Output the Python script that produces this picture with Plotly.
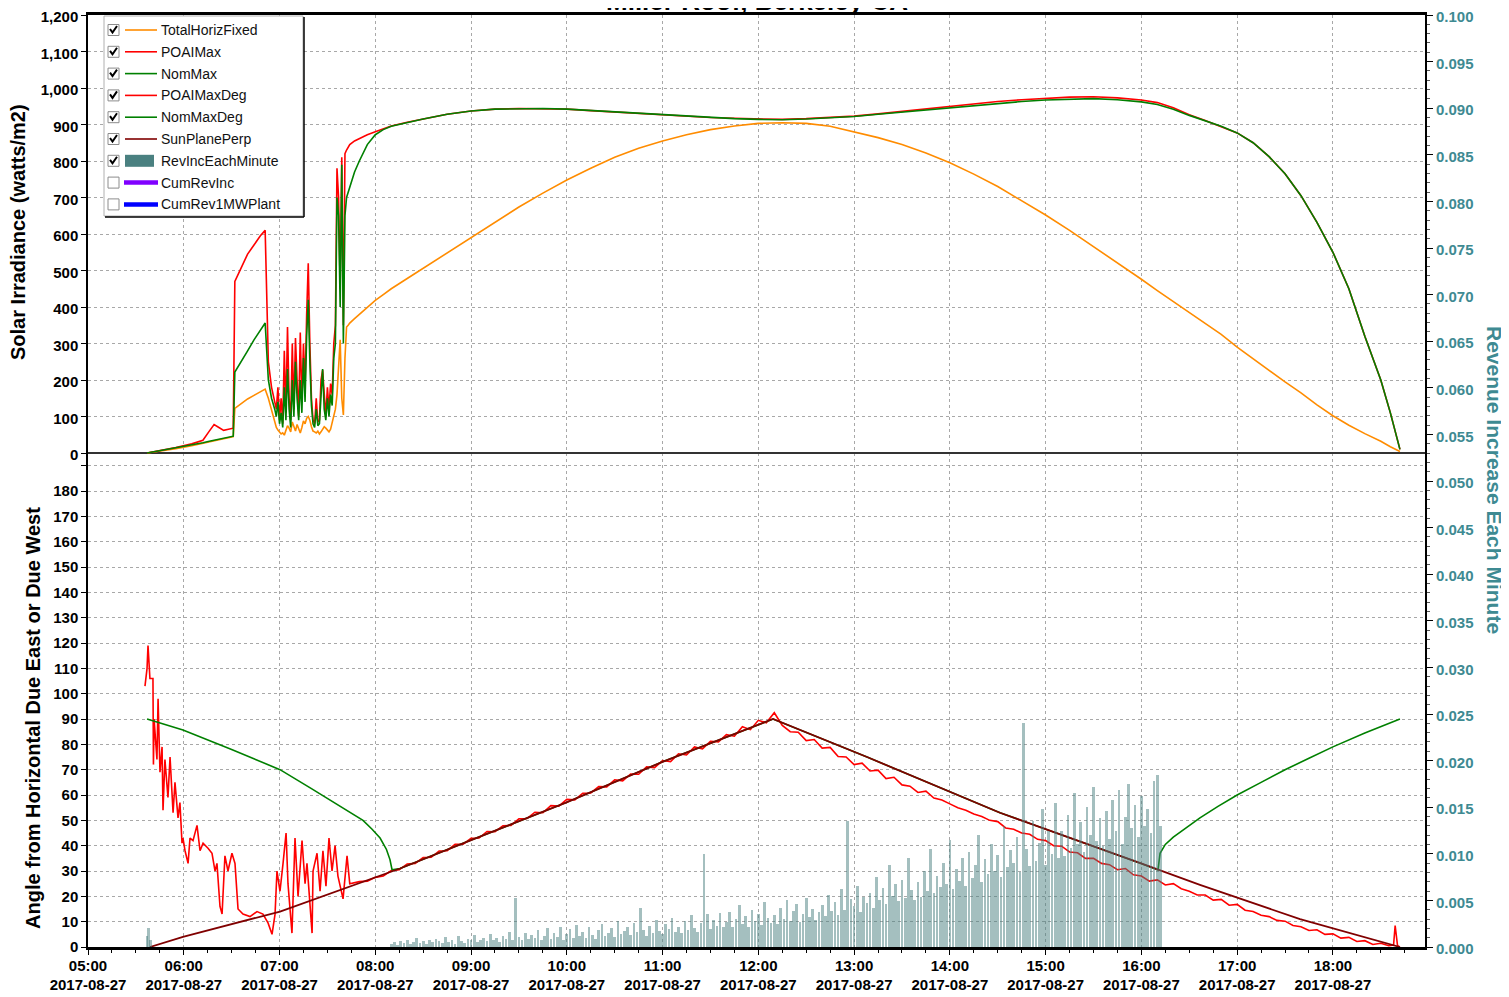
import pandas as pd
import plotly.graph_objects as go

FONT = "Arial, Liberation Sans, sans-serif"
T0 = pd.Timestamp("2017-08-27 05:00")

ORANGE = "#FF8C00"
RED = "#FF0000"
GREEN = "#008000"
DARKRED = "#800000"
TEAL = "#4A8080"
RIGHT_TXT = "#3E8A92"

# ---------------- top panel: solar irradiance (watts/m2) ----------------
top_times = [
    "05:37", "05:45", "05:55", "06:05", "06:12", "06:16", "06:19", "06:22", "06:25", "06:28",
    "06:31", "06:32", "06:36", "06:40", "06:44", "06:48", "06:51", "06:53", "06:55", "06:57",
    "06:58", "06:59", "07:00", "07:01", "07:02", "07:03", "07:04", "07:05", "07:06", "07:07",
    "07:08", "07:09", "07:10", "07:11", "07:12", "07:13", "07:14", "07:15", "07:16", "07:17",
    "07:18", "07:19", "07:20", "07:21", "07:22", "07:23", "07:24", "07:25", "07:26", "07:27",
    "07:28", "07:29", "07:30", "07:31", "07:32", "07:33", "07:34", "07:35", "07:36", "07:37",
    "07:38", "07:39", "07:40", "07:41", "07:42", "07:43", "07:44",
    "07:47", "07:50", "07:55", "08:00", "08:05", "08:10", "08:20", "08:30", "08:45",
    "09:00", "09:15", "09:30", "09:45", "10:00", "10:15", "10:30", "10:45", "11:00", "11:15",
    "11:30", "11:45", "12:00", "12:15", "12:30", "12:45", "13:00", "13:15", "13:30", "13:45",
    "14:00", "14:15", "14:30", "14:45", "15:00", "15:15", "15:30", "15:45", "16:00",
    "16:10", "16:20", "16:30", "16:40", "16:50", "17:00", "17:10", "17:20", "17:30", "17:40",
    "17:50", "18:00", "18:10", "18:20", "18:30", "18:36", "18:42",
]

total_horiz_fixed = [
    0, 5, 12, 20, 26, 30, 33, 36, 39, 42,
    45, 122, 135, 148, 158, 168, 175, 150, 118, 90,
    70, 63, 58, 52, 55, 49, 62, 75, 68, 58,
    85, 72, 60, 78, 65, 55, 70, 88, 80, 95,
    100, 90, 72, 60, 58, 55, 60, 52, 58, 65,
    72, 68, 62, 58, 65, 85, 100, 120, 160, 230,
    310, 150, 104, 260, 345, 350, 356,
    368, 380, 400, 418, 434, 450, 478, 506, 548,
    590, 633, 674, 712, 748, 780, 810, 835, 855, 872,
    886, 896, 903, 905, 903, 895, 880, 864, 845, 822,
    795, 764, 730, 692, 652, 610, 566, 521, 476,
    445, 415, 385, 355, 325, 290, 258, 226, 195, 165,
    132, 102, 76, 53, 32, 17, 4,
]

poai_max = [
    0, 6, 15, 25, 35, 60, 78, 70, 62, 65,
    68, 470, 510, 545, 570, 595, 610, 250, 180, 140,
    120, 180, 90, 150, 80, 280, 110, 345, 150, 90,
    300, 120, 315, 200, 100, 330, 140, 300, 180, 380,
    520, 300, 150, 90, 80, 150, 85, 90, 200, 227,
    150, 100, 180, 120, 190, 160, 300, 350, 780, 700,
    450, 810, 350, 820, 830, 838, 845,
    855, 862, 872, 880, 888, 896, 906, 915, 928,
    937, 942, 944, 944, 942, 938, 934, 930, 926, 922,
    919, 917, 915, 914, 916, 919, 923, 929, 936, 943,
    950, 957, 963, 968, 972, 975, 976, 973, 967,
    960, 946, 927, 911, 895, 877, 850, 812, 765, 705,
    632, 550, 450, 320, 200, 110, 10,
]

nom_max = [
    0, 6, 14, 22, 28, 32, 35, 38, 41, 44,
    46, 222, 250, 280, 310, 335, 356, 200, 150, 120,
    100, 140, 80, 110, 70, 180, 90, 230, 120, 70,
    200, 100, 250, 150, 90, 200, 110, 260, 140, 320,
    420, 250, 130, 80, 70, 120, 75, 80, 160, 230,
    120, 90, 150, 100, 160, 130, 260, 300, 700, 650,
    400, 790, 300, 650, 700, 715, 730,
    770, 800, 845, 872, 886, 895, 906, 915, 928,
    937, 942, 944, 944, 942, 938, 934, 930, 926, 922,
    918, 916, 914, 913, 915, 918, 922, 928, 934, 940,
    946, 952, 958, 963, 967, 970, 971, 968, 962,
    955, 942, 925, 910, 895, 877, 850, 812, 765, 705,
    632, 550, 450, 320, 200, 110, 10,
]

# ---------------- bottom panel: angle (degrees), minutes after 05:00 ----------------
sun_min = [38.8, 59.5, 120.3, 195.5, 239.3, 299.5, 359.6, 429.2, 488.1, 571.4, 659.8, 696.7, 759.4, 822]
sun_plane_perp = [0, 4, 14, 31, 42, 57, 73, 90, 75, 53, 33, 24.5, 11, 0]

nom_deg_min = [37, 59.5, 90, 120.3, 140, 151.6, 165, 172.3, 178, 183, 187, 189.2, 190.5, 195.5,
               239.3, 299.5, 359.6, 429.2, 488.1, 571.4, 659.8, 670.4, 671.7, 675, 680, 688.6,
               696.7, 708, 720, 735, 750, 765, 780, 800, 822]
nom_max_deg = [90, 85.7, 78, 70, 62.5, 58, 53, 50, 46.5, 43, 38.5, 34.5, 30.5, 31,
               42, 57, 73, 90, 75, 53, 33, 30.4, 37, 40.5, 43.4, 47.4,
               51, 55.5, 60, 65, 70, 74.5, 79, 84.5, 90]

poai_deg_early_min = [
    35.7, 37.0, 37.6, 38.8, 40.7, 41.0, 41.4, 43.2, 43.9, 45.1,
    46.4, 47.0, 48.2, 50.1, 51.4, 53.3, 54.5, 56.4, 57.6, 58.9,
    59.5, 60.8, 62.7, 63.9, 65.8, 68.3, 70.2, 72.1, 75.2, 77.7,
    79.6, 80.8, 82.7, 84.0, 85.8, 87.7, 90.2, 92.1, 94.0, 97.1,
    101.5, 105.9, 109.6, 112.8, 115.3, 117.2, 118.4, 120.3, 122.2, 124.1,
    125.3, 127.8, 129.7, 131.6, 134.1, 136.0, 137.2, 140.4, 141.0, 143.5,
    145.4, 147.2, 149.1, 151.0, 152.9, 154.8, 156.6, 159.8, 162.3, 164.0,
    170.0, 175.0,
]
poai_deg_early = [
    103, 110, 119, 106, 106, 72, 90, 74, 98, 69,
    79, 54, 74, 59, 75, 53, 65, 51, 57, 41,
    43, 38, 33, 43, 42, 48, 38, 41, 39, 37,
    30, 33, 16, 13, 36, 30, 37, 33, 15, 13,
    12, 14, 13, 9.5, 5, 13, 30, 22, 33, 45,
    25, 5.5, 43, 20, 42, 25, 33, 5.5, 30, 37,
    22, 38, 24, 43, 30, 40, 28, 19, 36, 25,
    25.8, 26.0,
]
# 08:00 .. 12:10, every 5 minutes
poai_deg_morning = [
    27.5, 28.0, 30.2, 30.5, 32.8, 33.0, 35.3, 35.4, 37.9, 38.0,
    40.5, 40.6, 42.9, 43.0, 45.6, 45.5, 47.9, 48.0, 50.6, 50.7,
    53.2, 53.0, 55.8, 55.6, 58.3, 58.1, 60.7, 60.8, 63.3, 63.2,
    66.0, 65.6, 68.3, 68.2, 71.1, 70.8, 73.6, 73.2, 76.3, 75.8,
    79.0, 78.2, 81.2, 81.0, 83.8, 83.2, 87.0, 85.8, 89.5, 88.5,
    92.5,
]
# 12:15 .. 18:35, every 5 minutes
poai_deg_afternoon = [
    87.5, 85.0, 84.8, 81.5, 81.9, 78.5, 78.8, 75.2, 75.0, 72.0,
    72.6, 69.5, 69.8, 66.5, 67.0, 64.0, 63.5, 61.0, 61.5, 58.8,
    58.0, 56.5, 55.0, 54.0, 52.5, 51.5, 50.0, 49.5, 47.0, 46.5,
    45.0, 44.5, 42.5, 42.0, 40.0, 39.8, 37.5, 37.2, 35.0, 35.0,
    33.0, 32.5, 30.5, 31.0, 28.5, 28.0, 26.0, 26.5, 24.5, 25.0,
    23.0, 22.0, 20.5, 20.5, 18.5, 18.8, 16.5, 16.8, 14.5, 14.0,
    12.5, 12.0, 10.5, 10.2, 8.5, 8.0, 6.5, 6.8, 5.0, 5.2,
    3.5, 3.8, 2.2, 2.5, 1.0, 1.5, 0.5,
]
poai_deg_tail_min = [818, 819, 820.5, 822]
poai_deg_tail = [0.8, 8.5, 0.5, 0]

# ---------------- RevIncEachMinute (right axis, in thousandths) ----------------
rev_early_min = [37, 38, 39]
rev_early = [1.2, 2.0, 0.8]
# 08:10 .. 16:12, every 2 minutes
rev_inc = [
    0.3, 0.5, 0.2, 0.6, 0.4, 0.8, 0.3, 0.5, 1.0, 0.4, 0.6, 0.3, 0.7, 0.5, 0.9,
    0.6, 0.4, 1.1, 0.5, 0.8, 0.3, 1.2, 0.6, 0.4, 0.9, 0.7, 1.3, 0.5, 0.8, 1.0,
    0.6, 1.4, 0.8, 1.0, 0.5, 1.2, 0.9, 1.6, 0.7, 5.3, 1.1, 0.8, 1.5, 0.9, 1.3,
    1.0, 1.8, 0.7, 1.2, 2.0, 0.9, 1.5, 1.1, 2.2, 0.8, 1.4, 1.9, 1.0, 2.4, 1.2,
    1.6, 1.0, 2.1, 1.3, 0.9, 1.8, 2.5, 1.2, 1.5, 2.0, 1.1, 2.8, 1.4, 1.7, 2.2,
    1.3, 2.6, 1.6, 4.2, 1.8, 1.2, 2.3, 1.5, 2.9, 1.7, 1.4, 2.5, 1.9, 3.1, 1.6,
    2.2, 1.5, 2.8, 1.8, 3.4, 2.0, 1.6, 2.6, 10.0, 3.5, 1.9, 2.9, 2.3, 3.6, 2.1,
    2.7, 3.8, 2.2, 3.0, 4.5, 2.5, 3.3, 2.1, 4.0, 2.8, 3.5, 2.4, 4.8, 3.1, 2.6,
    3.4, 2.5, 4.2, 3.0, 5.0, 2.8, 3.9, 4.6, 2.7, 3.5, 5.3, 3.2, 4.1, 2.9, 3.8,
    4.5, 3.3, 5.6, 3.9, 4.8, 3.4, 6.2, 4.0, 13.5, 5.2, 4.4, 6.5, 3.8, 5.4, 4.7,
    5.8, 4.2, 7.5, 5.0, 6.3, 4.6, 8.8, 5.5, 6.8, 4.9, 7.2, 5.3, 9.5, 6.1, 5.0,
    7.0, 5.4, 8.2, 6.0, 10.5, 5.8, 7.6, 6.4, 9.0, 6.8, 11.5, 6.2, 8.4, 7.1, 9.6,
    6.5, 10.2, 7.4, 8.8, 12.0, 7.0, 9.4, 7.8, 11.0, 8.2, 9.9, 7.5, 13.0, 8.6, 10.4,
    9.0, 11.8, 8.0, 24.0, 10.5, 8.7, 13.5, 9.2, 11.2, 14.8, 8.8, 12.4, 10.0, 15.5, 9.5,
    12.5, 9.8, 14.2, 10.6, 16.5, 11.0, 13.4, 10.2, 15.0, 12.0, 17.2, 11.4, 13.8, 10.8, 14.6,
    11.6, 15.8, 12.4, 16.8, 11.0, 14.0, 17.5, 12.8, 15.2, 11.8, 16.2, 13.0, 14.8, 12.2, 17.8,
    18.5, 13.0,
]

# ---------------- axis labels ----------------
hour_ticks = ["05:00", "06:00", "07:00", "08:00", "09:00", "10:00", "11:00",
              "12:00", "13:00", "14:00", "15:00", "16:00", "17:00", "18:00"]
legend_names = ["TotalHorizFixed", "POAIMax", "NomMax", "POAIMaxDeg", "NomMaxDeg",
                "SunPlanePerp", "RevIncEachMinute", "CumRevInc", "CumRev1MWPlant"]
legend_colors = [ORANGE, RED, GREEN, RED, GREEN, DARKRED, TEAL, "#8000FF", "#0000FF"]
legend_kind = ["line", "line", "line", "line", "line", "line", "box", "thick", "thick"]
legend_checked = [True, True, True, True, True, True, True, False, False]


def at(hhmm):
    return pd.to_datetime(["2017-08-27 " + t for t in hhmm])


def after(mins):
    return T0 + pd.to_timedelta(list(mins), unit="min")


for name, arr in [("thf", total_horiz_fixed), ("poai", poai_max), ("nom", nom_max)]:
    assert len(arr) == len(top_times), (name, len(arr), len(top_times))
assert len(nom_max_deg) == len(nom_deg_min)
assert len(poai_deg_early) == len(poai_deg_early_min)
assert len(poai_deg_morning) == len(range(180, 431, 5))
assert len(poai_deg_afternoon) == len(range(435, 816, 5))
assert len(rev_inc) == len(range(190, 673, 2))

top_x = at(top_times)
poai_deg_min = (poai_deg_early_min + list(range(180, 431, 5))
                + list(range(435, 816, 5)) + poai_deg_tail_min)
poai_max_deg = poai_deg_early + poai_deg_morning + poai_deg_afternoon + poai_deg_tail
rev_min = rev_early_min + list(range(190, 673, 2))
rev_vals = [v / 1000 for v in rev_early + rev_inc]

fig = go.Figure()

# top panel lines (left axis y)
fig.add_trace(go.Scatter(x=top_x, y=total_horiz_fixed, mode="lines", name="TotalHorizFixed",
                         line=dict(color=ORANGE, width=1.6), yaxis="y"))
fig.add_trace(go.Scatter(x=top_x, y=poai_max, mode="lines", name="POAIMax",
                         line=dict(color=RED, width=1.6), yaxis="y"))
fig.add_trace(go.Scatter(x=top_x, y=nom_max, mode="lines", name="NomMax",
                         line=dict(color=GREEN, width=1.6), yaxis="y"))

# bottom panel lines (left axis y2)
fig.add_trace(go.Scatter(x=after(poai_deg_min), y=poai_max_deg, mode="lines", name="POAIMaxDeg",
                         line=dict(color=RED, width=1.6), yaxis="y2"))
fig.add_trace(go.Scatter(x=after(nom_deg_min), y=nom_max_deg, mode="lines", name="NomMaxDeg",
                         line=dict(color=GREEN, width=1.6), yaxis="y2"))
fig.add_trace(go.Scatter(x=after(sun_min), y=sun_plane_perp, mode="lines", name="SunPlanePerp",
                         line=dict(color=DARKRED, width=1.8), yaxis="y2"))

# revenue bars (right axis y3)
fig.add_trace(go.Bar(x=after(rev_min), y=rev_vals, name="RevIncEachMinute",
                     marker=dict(color="rgba(74,128,128,0.5)", line_width=0),
                     width=100000, yaxis="y3"))

# ---------------- layout geometry ----------------
# the page body adds an 8px offset, so the figure is 8px smaller and shifted
W, H = 1501, 989
ML, MR, MT, MB = 80, 84, 7, 50
PW, PH = W - ML - MR, H - MT - MB
PLOT_LEFT, PLOT_BOTTOM = 88, 947  # on-screen pixel positions of the plot area


def px(x):
    return (x - PLOT_LEFT) / PW


def py(y):
    return (PLOT_BOTTOM - y) / PH


grid = dict(showgrid=True, gridcolor="#a8a8a8", gridwidth=1, griddash="3px,3px")
tick_font = dict(family=FONT, size=15, color="black", weight="bold")

fig.update_layout(
    width=W, height=H,
    margin=dict(l=ML, r=MR, t=MT, b=MB, autoexpand=False),
    paper_bgcolor="white", plot_bgcolor="white",
    showlegend=False, bargap=0,
    font=dict(family=FONT),
    xaxis=dict(
        type="date",
        range=[T0, T0 + pd.Timedelta(minutes=837.7)],
        tickvals=at(hour_ticks),
        ticktext=[h + "<br>2017-08-27" for h in hour_ticks],
        tickfont=dict(family=FONT, size=15, color="black", weight="bold"),
        ticks="outside", ticklen=5, tickcolor="black", ticklabelstandoff=-2,
        showline=True, linecolor="black", linewidth=2.5, mirror=True,
        minor=dict(dtick=15 * 60 * 1000, ticks="outside", ticklen=3, tickcolor="black", showgrid=False),
        automargin=False, ticklabeloverflow="allow",
        **grid,
    ),
    yaxis=dict(
        range=[-494 / 0.365, 1200],
        tickvals=list(range(0, 1201, 100)),
        tickformat=",",
        tickfont=tick_font,
        ticks="outside", ticklen=5, tickcolor="black", ticklabelshift=2,
        showline=True, linecolor="black", linewidth=1.5,
        zeroline=True, zerolinecolor="#333333", zerolinewidth=1.5,
        automargin=False, ticklabeloverflow="allow",
        **grid,
    ),
    yaxis2=dict(
        overlaying="y",
        range=[0, PH / 2.533],
        tickvals=list(range(0, 191, 10)),
        ticktext=[str(v) for v in range(0, 181, 10)] + [""],
        tickfont=tick_font,
        ticks="outside", ticklen=5, tickcolor="black",
        showline=True, linecolor="black", linewidth=1.5,
        zeroline=False, automargin=False, ticklabeloverflow="allow",
        **grid,
    ),
    yaxis3=dict(
        overlaying="y", side="right",
        range=[0, 0.1],
        tickvals=[i * 0.005 for i in range(21)],
        tickformat=".3f",
        tickfont=dict(family=FONT, size=15, color=RIGHT_TXT, weight="bold"),
        ticks="outside", ticklen=6, tickcolor="black", ticklabelshift=2,
        showline=True, linecolor="black", linewidth=2,
        minor=dict(dtick=0.001, ticks="outside", ticklen=3, tickcolor="#555555"),
        showgrid=False, zeroline=False, automargin=False, ticklabeloverflow="allow",
    ),
)

# ---------------- titles ----------------
# chart title sits mostly above the top edge of the picture, as in the source image
fig.add_annotation(text="<b>Miller Roof, Berkeley CA</b>", x=0.5, y=py(1), xref="paper", yref="paper",
                   showarrow=False, xanchor="center", yanchor="middle",
                   font=dict(family=FONT, size=26, color="black"))
fig.add_annotation(text="<b>Solar Irradiance (watts/m2)</b>", x=px(18), y=py(232), xref="paper",
                   yref="paper", showarrow=False, textangle=-90, xanchor="center", yanchor="middle",
                   font=dict(family=FONT, size=20, color="black"))
fig.add_annotation(text="<b>Angle from Horizontal Due East or Due West</b>", x=px(33), y=py(718),
                   xref="paper", yref="paper", showarrow=False, textangle=-90,
                   xanchor="center", yanchor="middle",
                   font=dict(family=FONT, size=20, color="black"))
fig.add_annotation(text="<b>Revenue Increase Each Minute</b>", x=px(1495), y=py(480), xref="paper",
                   yref="paper", showarrow=False, textangle=90, xanchor="center", yanchor="middle",
                   font=dict(family=FONT, size=21, color=RIGHT_TXT))

# ---------------- legend box with check boxes ----------------
fig.add_shape(type="rect", xref="paper", yref="paper", x0=px(104), x1=px(303), y0=py(216), y1=py(16),
              fillcolor="white", line=dict(color="#b0b0b0", width=1))
fig.add_shape(type="line", xref="paper", yref="paper", x0=px(304), x1=px(304), y0=py(17), y1=py(217),
              line=dict(color="black", width=1.5))
fig.add_shape(type="line", xref="paper", yref="paper", x0=px(105), x1=px(304), y0=py(217), y1=py(217),
              line=dict(color="black", width=1.5))

for i, name in enumerate(legend_names):
    yc = 30 + 21.8 * i
    color = legend_colors[i]
    fig.add_shape(type="rect", xref="paper", yref="paper", x0=px(108), x1=px(119),
                  y0=py(yc + 5.5), y1=py(yc - 5.5), fillcolor="white",
                  line=dict(color="#8c8c8c", width=1))
    if legend_checked[i]:
        fig.add_shape(type="path", xref="paper", yref="paper",
                      path=f"M {px(110)},{py(yc - 1)} L {px(112.5)},{py(yc + 2.5)} L {px(117)},{py(yc - 4)}",
                      line=dict(color="black", width=2))
    if legend_kind[i] == "line":
        fig.add_shape(type="line", xref="paper", yref="paper", x0=px(125), x1=px(157),
                      y0=py(yc), y1=py(yc), line=dict(color=color, width=1.6))
    elif legend_kind[i] == "box":
        fig.add_shape(type="rect", xref="paper", yref="paper", x0=px(125), x1=px(154),
                      y0=py(yc + 6), y1=py(yc - 6), fillcolor=color, line_width=0)
    else:
        fig.add_shape(type="line", xref="paper", yref="paper", x0=px(124), x1=px(158),
                      y0=py(yc), y1=py(yc), line=dict(color=color, width=4.5))
    fig.add_annotation(text=name, x=px(159), y=py(yc), xref="paper", yref="paper", showarrow=False,
                       xanchor="left", yanchor="middle", font=dict(family=FONT, size=14, color="#111111"))

fig.write_html("out.html")
